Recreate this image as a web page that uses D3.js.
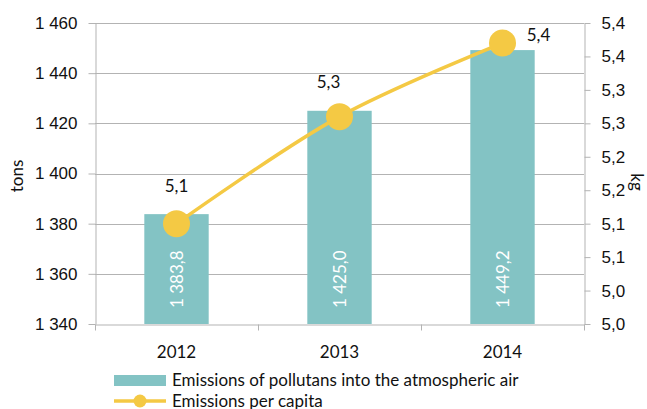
<!DOCTYPE html>
<html lang='en'>
<head>
  <meta charset='utf-8'/>
  <title>Emissions of pollutants</title>
  <script src='https://d3js.org/d3.v7.min.js'></script>
  <style>
    body{margin:0;background:#ffffff;}
    svg{display:block;font-family:Lato,'Open Sans',sans-serif;}
  </style>
</head>
<body>
<svg id='chart'></svg>
<script>
// Data
const years = ['2012', '2013', '2014'];
const emissions = [1383.8, 1425.0, 1449.2];      // tons (bars)
const perCapita = [5.10, 5.26, 5.37];            // kg (line)
const perCapitaLabels = ['5,1', '5,3', '5,4'];
const leftTicks = [1340, 1360, 1380, 1400, 1420, 1440, 1460];
const rightTicks = [4.95, 5.00, 5.05, 5.10, 5.15, 5.20, 5.25, 5.30, 5.35, 5.40];
const legendLabels = ['Emissions of pollutans into the atmospheric air', 'Emissions per capita'];

// Layout
const W = 647, H = 409;
const plot = {left: 95, right: 584, top: 23, bottom: 324};
const pointLabelOffset = [[0, -38], [-11, -35], [36, -8]];
const barColor = '#83c3c4';
const lineColor = '#f4c944';
const gridColor = '#b3b3b3';
const textColor = '#111111';
const fontSize = 17;

const svg = d3.select('#chart').attr('width', W).attr('height', H);

const loc = d3.formatLocale({decimal: ',', thousands: '\u00a0', grouping: [3], currency: ['', '']});
const fmtLeft = loc.format(',d');
const fmtBar = loc.format(',.1f');
const fmtRight = d => (Math.round(Math.round(d * 100) / 10) / 10).toFixed(1).replace('.', ',');

// Scales
const x = d3.scaleBand().domain(years).range([plot.left, plot.right])
  .paddingInner(0.605).paddingOuter(0.3025);
const yL = d3.scaleLinear().domain([1340, 1460]).range([plot.bottom, plot.top]);
const yR = d3.scaleLinear().domain([4.95, 5.40]).range([plot.bottom, plot.top]);

// Gridlines
svg.append('g')
  .selectAll('line').data(leftTicks.slice(1)).join('line')
  .attr('x1', plot.left).attr('x2', plot.right)
  .attr('y1', d => Math.round(yL(d)) + 0.5).attr('y2', d => Math.round(yL(d)) + 0.5)
  .attr('stroke', gridColor);

// Bars
svg.append('g')
  .selectAll('rect').data(emissions).join('rect')
  .attr('x', (d, i) => x(years[i]))
  .attr('width', x.bandwidth())
  .attr('y', d => yL(d))
  .attr('height', d => plot.bottom - yL(d))
  .attr('fill', barColor);

// Bar value labels (vertical, inside base)
svg.append('g')
  .selectAll('text').data(emissions).join('text')
  .attr('transform', (d, i) => `translate(${x(years[i]) + x.bandwidth() / 2 + 6},${plot.bottom - 16}) rotate(-90)`)
  .attr('fill', '#ffffff')
  .attr('font-size', fontSize)
  .text(d => fmtBar(d));

// Axes
const axisStyle = g => {
  g.select('.domain').attr('stroke', gridColor);
  g.selectAll('.tick line').attr('stroke', gridColor);
  g.selectAll('.tick text').attr('fill', textColor).attr('font-size', fontSize).attr('font-family', null);
};

svg.append('g')
  .attr('transform', `translate(${plot.left + 0.5},0)`)
  .call(d3.axisLeft(yL).tickValues(leftTicks).tickFormat(fmtLeft).tickSize(7).tickSizeOuter(0).tickPadding(11))
  .call(axisStyle);

svg.append('g')
  .attr('transform', `translate(${plot.right + 0.5},0)`)
  .call(d3.axisRight(yR).tickValues(rightTicks).tickFormat(fmtRight).tickSize(6).tickSizeOuter(0).tickPadding(11))
  .call(axisStyle);

const xAxis = d3.scaleLinear().domain([0, years.length]).range([plot.left, plot.right]);
svg.append('g')
  .attr('transform', `translate(0,${plot.bottom + 0.5})`)
  .call(d3.axisBottom(xAxis).tickValues(d3.range(years.length + 1)).tickFormat('').tickSize(6).tickSizeOuter(0))
  .call(axisStyle);

svg.append('g')
  .selectAll('text').data(years).join('text')
  .attr('x', d => x(d) + x.bandwidth() / 2)
  .attr('y', plot.bottom + 34)
  .attr('text-anchor', 'middle')
  .attr('fill', textColor)
  .attr('font-size', fontSize)
  .text(d => d);

// Axis titles
svg.append('text')
  .attr('transform', 'translate(23,176) rotate(-90)')
  .attr('text-anchor', 'middle')
  .attr('fill', textColor).attr('font-size', fontSize)
  .text('tons');
svg.append('text')
  .attr('transform', 'translate(631,182) rotate(90)')
  .attr('text-anchor', 'middle')
  .attr('fill', textColor).attr('font-size', fontSize)
  .text('kg');

// Line series
const pts = perCapita.map((v, i) => [x(years[i]) + x.bandwidth() / 2, yR(v)]);
svg.append('path')
  .attr('d', d3.line().curve(d3.curveCatmullRom.alpha(0.5))(pts))
  .attr('fill', 'none')
  .attr('stroke', lineColor)
  .attr('stroke-width', 3.5);

svg.append('g')
  .selectAll('circle').data(pts).join('circle')
  .attr('cx', d => d[0]).attr('cy', d => d[1])
  .attr('r', 13.5)
  .attr('fill', lineColor);

svg.append('g')
  .selectAll('text').data(perCapitaLabels).join('text')
  .attr('x', (d, i) => pts[i][0] + pointLabelOffset[i][0])
  .attr('y', (d, i) => pts[i][1] + pointLabelOffset[i][1])
  .attr('dy', '0.35em')
  .attr('text-anchor', 'middle')
  .attr('fill', textColor)
  .attr('font-size', fontSize)
  .text(d => d);

// Legend
const legend = svg.append('g');
legend.append('rect')
  .attr('x', 114).attr('y', 375).attr('width', 52).attr('height', 11)
  .attr('fill', barColor);
legend.append('line')
  .attr('x1', 114).attr('x2', 166).attr('y1', 401).attr('y2', 401)
  .attr('stroke', lineColor).attr('stroke-width', 3.5);
legend.append('circle')
  .attr('cx', 140).attr('cy', 401).attr('r', 6.5)
  .attr('fill', lineColor);
legend.selectAll('text').data(legendLabels).join('text')
  .attr('x', 172)
  .attr('y', (d, i) => 380.5 + i * 21)
  .attr('dy', '0.35em')
  .attr('fill', textColor)
  .attr('font-size', fontSize)
  .text(d => d);
</script>
</body>
</html>
